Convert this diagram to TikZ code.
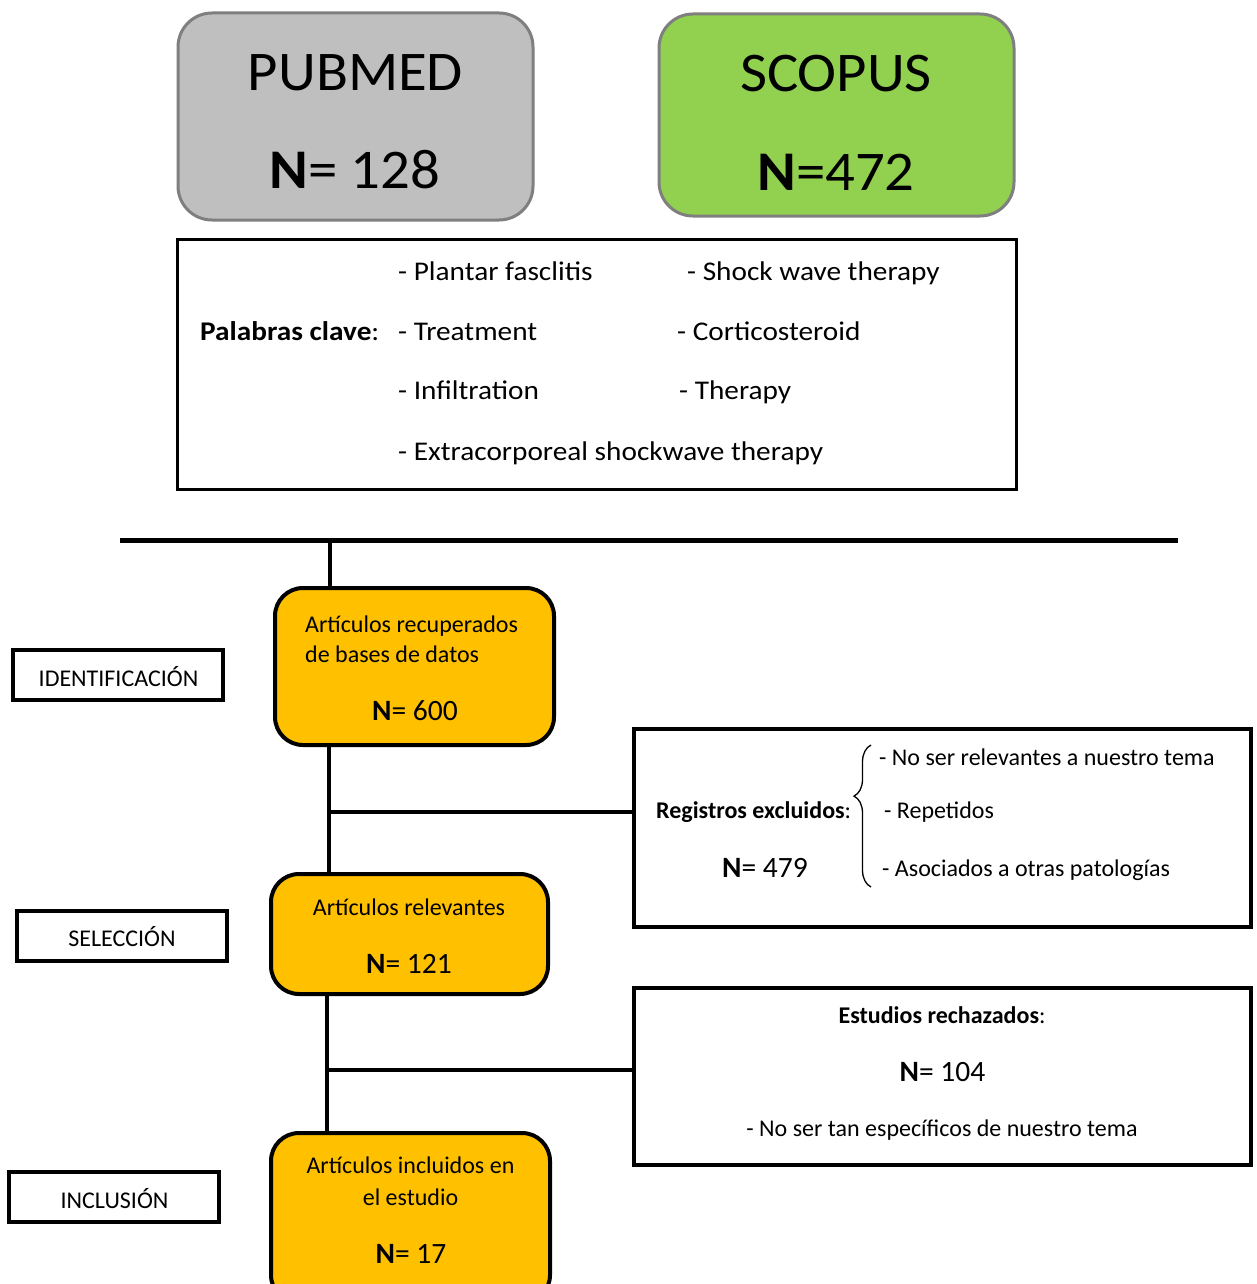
\documentclass[tikz,border=0pt]{standalone}
\usepackage{graphicx}
\usepackage{fontspec}
\setmainfont{Carlito}
\usetikzlibrary{decorations.pathreplacing}
\definecolor{pubgray}{HTML}{BFBFBF}
\definecolor{scogreen}{HTML}{92D050}
\definecolor{edgegray}{HTML}{7F7F7F}
\definecolor{orangebox}{HTML}{FFC000}
% size, horizontal stretch, text
\newcommand{\tx}[3]{\scalebox{#2}[1]{\fontsize{#1}{#1}\selectfont #3}}
\tikzset{
  dbbox/.style={draw=edgegray, line width=3pt, rounded corners=34pt},
  stepbox/.style={draw=black, fill=orangebox, line width=4pt, rounded corners=28pt},
  phasebox/.style={draw=black, line width=3.5pt},
  infobox/.style={draw=black, line width=4pt},
  kwbox/.style={draw=black, line width=3pt},
  conn/.style={draw=black, line width=4.5pt},
  txt/.style={inner sep=0pt, anchor=base west},
  ctxt/.style={inner sep=0pt, anchor=base},
}
\begin{document}
\begin{tikzpicture}[x=1pt, y=-1pt]
\useasboundingbox (0,0) rectangle (1256,1284);
\clip (0,0) rectangle (1256,1284);
\fill[white] (0,0) rectangle (1256,1284);

% database boxes
\draw[dbbox, fill=pubgray] (178,13) rectangle (533,220);
\node[ctxt] (pubt) at (355.5,91) {\tx{56}{1.05}{PUBMED}};
\node[ctxt] (pubn) at (355,189) {\tx{56}{1.05}{\textbf{N}= 128}};
\draw[dbbox, fill=scogreen] (659,14) rectangle (1014,216);
\node[ctxt] (scot) at (836,92) {\tx{56}{1.05}{SCOPUS}};
\node[ctxt] (scon) at (836,190) {\tx{56}{1.05}{\textbf{N}=472}};

% keywords box
\draw[kwbox] (177,239) rectangle (1016,489);
\node[txt] (k1) at (398,280) {\tx{27}{1.085}{- Plantar fasclitis}};
\node[txt] (k2) at (687,280) {\tx{27}{1.085}{- Shock wave therapy}};
\node[txt] (kl) at (200,340) {\tx{27}{1.085}{\textbf{Palabras clave}:}};
\node[txt] (k3) at (398,340) {\tx{27}{1.085}{- Treatment}};
\node[txt] (k4) at (677,340) {\tx{27}{1.085}{- Corticosteroid}};
\node[txt] (k5) at (398,399) {\tx{27}{1.085}{- Infiltration}};
\node[txt] (k6) at (679,399) {\tx{27}{1.085}{- Therapy}};
\node[txt] (k7) at (398,460) {\tx{27}{1.085}{- Extracorporeal shockwave therapy}};

% horizontal line
\coordinate (hl) at (120,540);
\coordinate (hr) at (1178,540);
\coordinate (hj) at (330,540);
\draw[conn, line width=5pt] (hl) -- (hr);

% phase labels
\node[phasebox, minimum width=210pt, minimum height=50pt, inner sep=0pt] (ident) at (118,675) {};
\node[ctxt] (identt) at (118.5,686) {\tx{24}{1.0}{IDENTIFICACIÓN}};
\node[phasebox, minimum width=210pt, minimum height=50pt, inner sep=0pt] (selec) at (122,936) {};
\node[ctxt] (select) at (122,946) {\tx{24}{1.0}{SELECCIÓN}};
\node[phasebox, minimum width=210pt, minimum height=50pt, inner sep=0pt] (inclu) at (114,1197) {};
\node[ctxt] (inclut) at (114.5,1208) {\tx{24}{1.0}{INCLUSIÓN}};

% step boxes
\node[stepbox, minimum width=279pt, minimum height=157pt, inner sep=0pt] (b1) at (414.5,666.5) {};
\node[txt] (b1a) at (305,632) {\tx{24}{1.0}{Artículos recuperados}};
\node[txt] (b1b) at (305,662) {\tx{24}{1.0}{de bases de datos}};
\node[ctxt] (b1n) at (415,720) {\tx{29.5}{1.0}{\textbf{N}= 600}};

\node[stepbox, minimum width=277pt, minimum height=120pt, inner sep=0pt] (b2) at (409.5,934) {};
\node[ctxt] (b2a) at (409,915) {\tx{24}{1.0}{Artículos relevantes}};
\node[ctxt] (b2n) at (409,973) {\tx{29.5}{1.0}{\textbf{N}= 121}};

\node[stepbox, minimum width=279pt, minimum height=170pt, inner sep=0pt, anchor=north] (b3) at (410.5,1131) {};
\node[ctxt] (b3a) at (410.5,1173) {\tx{24}{1.0}{Artículos incluidos en}};
\node[ctxt] (b3b) at (410.5,1205) {\tx{24}{1.0}{el estudio}};
\node[ctxt] (b3n) at (411,1263) {\tx{29.5}{1.0}{\textbf{N}= 17}};

% excluded box
\node[infobox, minimum width=617pt, minimum height=198pt, inner sep=0pt] (ex) at (942.5,828) {};
\node[txt] (exl) at (656,818) {\tx{24}{1.0}{\textbf{Registros excluidos}:}};
\node[ctxt] (exn) at (765,877) {\tx{29.5}{1.0}{\textbf{N}= 479}};
\node[txt] (ex1) at (879,765) {\tx{24}{1.0}{- No ser relevantes a nuestro tema}};
\node[txt] (ex2) at (884,818) {\tx{24}{1.0}{- Repetidos}};
\node[txt] (ex3) at (882,876) {\tx{24}{1.0}{- Asociados a otras patologías}};
\coordinate (brb) at (871,887);
\coordinate (brt) at (871,745);
\draw[line width=1.3pt, decorate, decoration={brace, amplitude=17pt, aspect=0.64}] (brb) -- (brt);

% rejected box
\node[infobox, minimum width=617pt, minimum height=177pt, inner sep=0pt] (re) at (942.5,1076.5) {};
\node[ctxt] (rel) at (942,1023) {\tx{24}{1.0}{\textbf{Estudios rechazados}:}};
\node[ctxt] (ren) at (942.5,1081) {\tx{29.5}{1.0}{\textbf{N}= 104}};
\node[ctxt] (re1) at (942,1136) {\tx{24}{1.0}{- No ser tan específicos de nuestro tema}};

% connectors
\draw[conn] (hj) -- (hj |- b1.north);
\coordinate (j1) at (329,812);
\draw[conn] (b1.south -| j1) -- (b2.north -| j1);
\draw[conn] (j1) -- (ex.west |- j1);
\coordinate (j2) at (327,1070);
\draw[conn] (b2.south -| j2) -- (b3.north -| j2);
\draw[conn] (j2) -- (re.west |- j2);
\end{tikzpicture}
\end{document}
